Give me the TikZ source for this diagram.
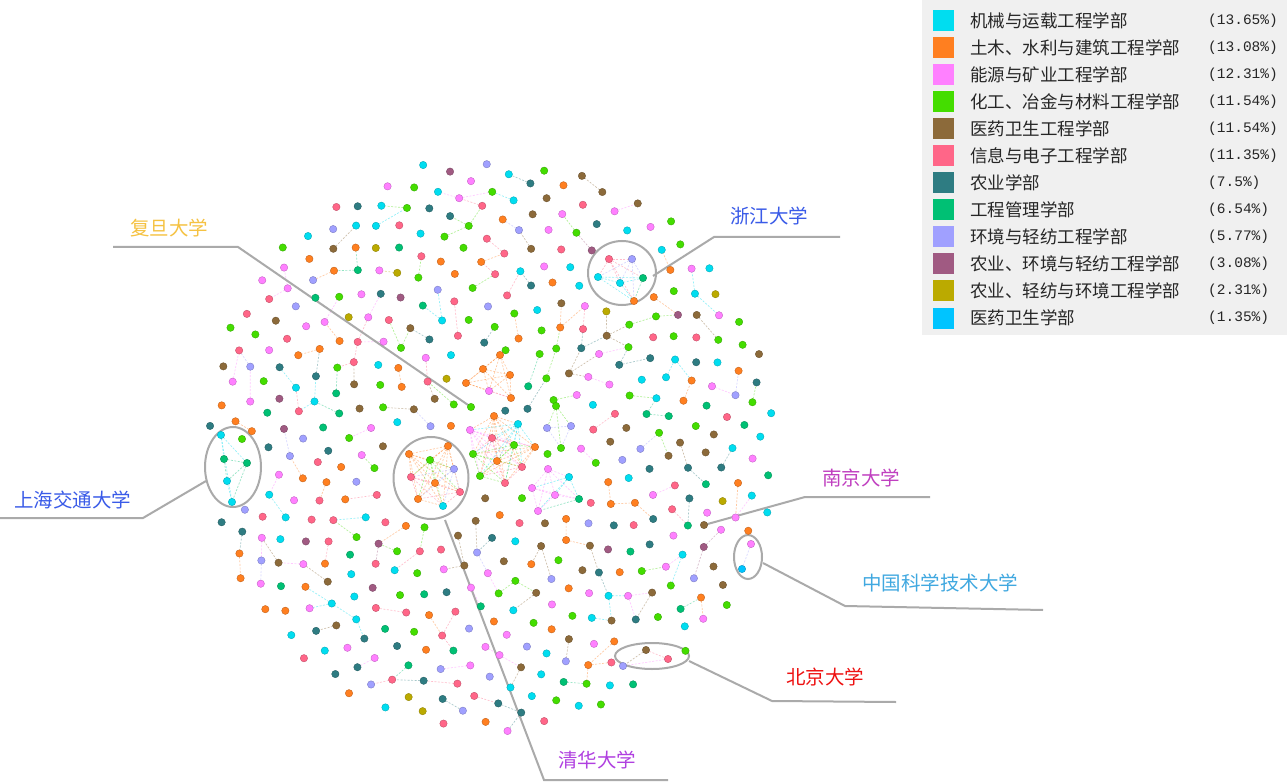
\documentclass[tikz,border=0pt]{standalone}
\usepackage{fontspec}
\newfontfamily\cjk{Noto Sans CJK SC}
\newfontfamily\monof{Liberation Mono}
\definecolor{cA}{HTML}{00DDF0}
\definecolor{cB}{HTML}{FF7F20}
\definecolor{cC}{HTML}{FF80FF}
\definecolor{cD}{HTML}{44DD00}
\definecolor{cE}{HTML}{8C6A3A}
\definecolor{cF}{HTML}{FF6688}
\definecolor{cG}{HTML}{2E7C82}
\definecolor{cH}{HTML}{00C074}
\definecolor{cI}{HTML}{A0A0FF}
\definecolor{cJ}{HTML}{A05A82}
\definecolor{cK}{HTML}{BBAA00}
\definecolor{cL}{HTML}{00C4FF}
\definecolor{legbg}{HTML}{F0F0F0}
\definecolor{leadgray}{HTML}{AAAAAA}
\definecolor{lFudan}{HTML}{F5C242}
\definecolor{lBlue}{HTML}{3A5BE8}
\definecolor{lTsing}{HTML}{B040E0}
\definecolor{lNanj}{HTML}{C040C0}
\definecolor{lUstc}{HTML}{40A8E0}
\definecolor{lPku}{HTML}{EE1111}
\tikzset{
  dotn/.style={circle,fill=#1,draw=#1!75!black,line width=0.35pt,inner sep=0pt,minimum size=7.4pt},
  eline/.style={draw=#1,dash pattern=on 2pt off 1.5pt,line width=0.65pt,draw opacity=0.42},
  leader/.style={draw=leadgray,line width=2pt},
  lab/.style={anchor=west,font=\cjk\fontsize{19.5}{20}\selectfont,inner sep=0pt},
  legsq/.style={rectangle,minimum size=21pt,inner sep=0pt},
  legtx/.style={anchor=west,font=\cjk\fontsize{17.5}{18}\selectfont,inner sep=0pt,text=black!85},
  legpc/.style={anchor=west,font=\monof\fontsize{14.5}{15}\selectfont,inner sep=0pt,text=black!85},
}
\newcommand\NP{520}
\newcommand\tryedge[2]{%
  \ifnum#2>\NP\relax\else
   \ifnum\csname sk#1\endcsname=0\relax
    \ifnum\csname sk#2\endcsname=0\relax
      \pgfmathsetmacro\dd{veclen((\csname px#1\endcsname-\csname px#2\endcsname)/10,(\csname py#1\endcsname-\csname py#2\endcsname)/10)}%
      \ifdim\dd pt<3.6pt
        \edef\ec{\csname col#1\endcsname}%
        \draw[eline=\ec] (p#1) -- (p#2);
      \fi
    \fi
   \fi
  \fi}
\newcommand\clique[1]{%
  \foreach \a/\ca [count=\ia] in {#1}{%
    \foreach \b/\cb [count=\ib] in {#1}{%
      \ifnum\ib>\ia\relax \draw[eline=\ca] (\a) -- (\b);\fi
    }}}
\begin{document}
\begin{tikzpicture}[x=1pt,y=-1pt]
\useasboundingbox (0,0) rectangle (1287,783);
\fill[white] (0,0) rectangle (1287,783);
% ---------- legend
\fill[legbg] (922,0) rectangle (1287,335);
\foreach \c/\t/\p [count=\k] in {
  cA/机械与运载工程学部/(13.65\%),
  cB/土木、水利与建筑工程学部/(13.08\%),
  cC/能源与矿业工程学部/(12.31\%),
  cD/化工、冶金与材料工程学部/(11.54\%),
  cE/医药卫生工程学部/(11.54\%),
  cF/信息与电子工程学部/(11.35\%),
  cG/农业学部/(7.5\%),
  cH/工程管理学部/(6.54\%),
  cI/环境与轻纺工程学部/(5.77\%),
  cJ/农业、环境与轻纺工程学部/(3.08\%),
  cK/农业、轻纺与环境工程学部/(2.31\%),
  cL/医药卫生学部/(1.35\%)}{
  \pgfmathsetmacro\yy{20.5+27.05*(\k-1)}
  \node[legsq,fill=\c] (sq\k) at (943,\yy) {};
  \node[legtx] (lt\k) at (970,\yy) {\t};
  \node[legpc] (lp\k) at (1208,\yy) {\p};
}
% ---------- sunflower positions
\pgfmathsetseed{4242}
\foreach \i in {1,...,520}{
  \pgfmathsetmacro\rr{287*sqrt((\i-0.5)/520)}
  \edef\aint{\the\numexpr \i*137508-(\i*137508/360000)*360000\relax}
  \edef\bint{\the\numexpr \aint/20\relax}
  \pgfmathsetmacro\th{\bint/50}
  \pgfmathsetmacro\px{490+\rr*cos(\th)+2.5*rand}
  \pgfmathsetmacro\py{445+\rr*sin(\th)+2.5*rand}
  \expandafter\xdef\csname px\i\endcsname{\px}
  \expandafter\xdef\csname py\i\endcsname{\py}
  \coordinate (p\i) at (\px,\py);
  \gdef\sk{0}
  \foreach \cx/\cy/\cr in {431/478/44,500/450/38,490/377/30,559/427/24,555/490/30,622/273/36,233/467/38,648/657/28,747/556/20,704/525/11,471/407/11}{
    \pgfmathtruncatemacro\ins{veclen((\px-\cx)/10,(\py-\cy)/10)<\cr/10}
    \ifnum\ins=1 \gdef\sk{1}\fi
  }
  \expandafter\xdef\csname sk\i\endcsname{\sk}
  \pgfmathrandominteger{\rn}{1}{520}
  \ifnum\rn<72 \def\cc{cA}\else\ifnum\rn<140 \def\cc{cB}\else\ifnum\rn<204 \def\cc{cC}\else\ifnum\rn<264 \def\cc{cD}\else\ifnum\rn<324 \def\cc{cE}\else\ifnum\rn<383 \def\cc{cF}\else\ifnum\rn<422 \def\cc{cG}\else\ifnum\rn<456 \def\cc{cH}\else\ifnum\rn<486 \def\cc{cI}\else\ifnum\rn<502 \def\cc{cJ}\else\ifnum\rn<514 \def\cc{cK}\else\def\cc{cL}\fi\fi\fi\fi\fi\fi\fi\fi\fi\fi\fi
  \expandafter\xdef\csname col\i\endcsname{\cc}
}
% ---------- sunflower edges
\foreach \i in {1,...,520}{
  \pgfmathrandominteger{\qa}{1}{100}
  \ifnum\qa<16 \edef\j{\the\numexpr\i+21\relax}\tryedge{\i}{\j}\fi
  \pgfmathrandominteger{\qb}{1}{100}
  \ifnum\qb<18 \edef\j{\the\numexpr\i+34\relax}\tryedge{\i}{\j}\fi
  \pgfmathrandominteger{\qc}{1}{100}
  \ifnum\qc<16 \edef\j{\the\numexpr\i+55\relax}\tryedge{\i}{\j}\fi
}
% ---------- explicit clusters
\foreach \n/\x/\y/\c in {
  t1/409/454/cB,t2/448/446/cB,t3/430/460/cD,t4/454/469/cI,t5/411/477/cF,t6/435/483/cB,t7/460/492/cF,t8/418/499/cB,t9/443/506/cA,
  g1/494/416/cB,g2/518/424/cA,g3/470/430/cC,g4/492/438/cF,g5/514/445/cD,g6/535/447/cB,g7/473/454/cD,g8/497/461/cB,g9/522/467/cF,g10/480/476/cD,g11/505/483/cF,
  o1/500/355/cB,o2/483/369/cB,o3/510/375/cB,o4/466/383/cB,o5/489/391/cC,o6/511/398/cB,
  d1/556/406/cD,d2/547/428/cI,d3/571/426/cI,d4/561/448/cD,
  q1/548/469/cC,q2/569/477/cA,q3/532/488/cC,q4/555/495/cC,q5/579/499/cH,q6/538/511/cC,
  z1/609/259/cF,z2/632/259/cI,z3/598/277/cA,z4/620/283/cA,z5/643/278/cH,z6/634/301/cB,
  s1/221/435/cA,s2/242/439/cD,s3/224/459/cH,s4/247/463/cH,s5/227/481/cA,s6/232/502/cA,
  k1/646/650/cE,k2/668/659/cF,k3/623/666/cI,
  u1/751/544/cC,u2/742/569/cL,
  nj/704/525/cE,fd/471/407/cD}{
  \coordinate (\n) at (\x,\y);
}
\clique{t1/cB,t2/cB,t3/cD,t4/cI,t5/cF,t6/cB,t7/cF,t8/cB,t9/cA}
\clique{g1/cB,g2/cA,g3/cC,g4/cF,g5/cD,g6/cB,g7/cD,g8/cB,g9/cF,g10/cD,g11/cF}
\clique{o1/cB,o2/cB,o3/cB,o4/cB,o5/cC,o6/cB}
\clique{d1/cD,d2/cI,d3/cI,d4/cD}
\clique{q1/cC,q2/cA,q3/cC,q4/cC,q5/cH,q6/cC}
\clique{z1/cF,z2/cI,z3/cA,z4/cA,z5/cH,z6/cB}
\draw[eline=cA] (s1) -- (s3);
\draw[eline=cH] (s3) -- (s4);
\draw[eline=cA] (s1) -- (s4);
\draw[eline=cH] (s3) -- (s5);
\draw[eline=cH] (s4) -- (s5);
\draw[eline=cA] (s5) -- (s6);
\draw[eline=cA] (s1) -- (s6);
\draw[eline=cH] (s4) -- (s6);
\draw[eline=cF] (k1) -- (k2);
\draw[eline=cE] (k1) -- (k3);
\draw[eline=cC] (k2) -- (k3);
\draw[eline=cI] (u1) -- (u2);
% ---------- rings and leader lines
\draw[leader] (431,478) ellipse [x radius=37.5pt, y radius=41pt];
\draw[leader] (622,273) ellipse [x radius=34pt, y radius=32pt];
\draw[leader] (233,467) ellipse [x radius=28pt, y radius=40pt];
\draw[leader] (652,656) ellipse [x radius=37pt, y radius=13pt];
\draw[leader] (748,557) ellipse [x radius=14pt, y radius=22pt];
\coordinate (fdA) at (113,247); \coordinate (fdB) at (238,247);
\draw[leader] (fdA) -- (fdB) -- (fd);
\coordinate (zjA) at (653,276); \coordinate (zjB) at (714,237); \coordinate (zjC) at (840,237);
\draw[leader] (zjA) -- (zjB) -- (zjC);
\coordinate (shA) at (0,518); \coordinate (shB) at (143,518); \coordinate (shC) at (206,481);
\draw[leader] (shA) -- (shB) -- (shC);
\coordinate (thA) at (445,520); \coordinate (thB) at (544,780); \coordinate (thC) at (668,780);
\draw[leader] (thA) -- (thB) -- (thC);
\coordinate (njB) at (805,497); \coordinate (njC) at (930,497);
\draw[leader] (nj) -- (njB) -- (njC);
\coordinate (usA) at (763,563); \coordinate (usB) at (845,606); \coordinate (usC) at (1043,610);
\draw[leader] (usA) -- (usB) -- (usC);
\coordinate (pkA) at (689,661); \coordinate (pkB) at (772,701); \coordinate (pkC) at (896,702);
\draw[leader] (pkA) -- (pkB) -- (pkC);
% ---------- dots
\foreach \i in {1,...,520}{
  \ifnum\csname sk\i\endcsname=0\relax
    \edef\cc{\csname col\i\endcsname}
    \node[dotn=\cc] (n\i) at (p\i) {};
  \fi
}
\foreach \n/\c in {t1/cB,t2/cB,t3/cD,t4/cI,t5/cF,t6/cB,t7/cF,t8/cB,t9/cA,
  g1/cB,g2/cA,g3/cC,g4/cF,g5/cD,g6/cB,g7/cD,g8/cB,g9/cF,g10/cD,g11/cF,
  o1/cB,o2/cB,o3/cB,o4/cB,o5/cC,o6/cB,d1/cD,d2/cI,d3/cI,d4/cD,
  q1/cC,q2/cA,q3/cC,q4/cC,q5/cH,q6/cC,z1/cF,z2/cI,z3/cA,z4/cA,z5/cH,z6/cB,
  s1/cA,s2/cD,s3/cH,s4/cH,s5/cA,s6/cA,k1/cE,k2/cF,k3/cI,u1/cC,u2/cL,nj/cE,fd/cD}{
  \node[dotn=\c] (m\n) at (\n) {};
}
% ---------- labels
\node[lab,text=lFudan] (labFD) at (130,228) {复旦大学};
\node[lab,text=lBlue] (labZJ) at (730,216) {浙江大学};
\node[lab,text=lBlue] (labSH) at (14,500) {上海交通大学};
\node[lab,text=lTsing] (labTH) at (558,760) {清华大学};
\node[lab,text=lNanj] (labNJ) at (822,478) {南京大学};
\node[lab,text=lUstc] (labUS) at (862,583) {中国科学技术大学};
\node[lab,text=lPku] (labPK) at (786,677) {北京大学};
\end{tikzpicture}
\end{document}
